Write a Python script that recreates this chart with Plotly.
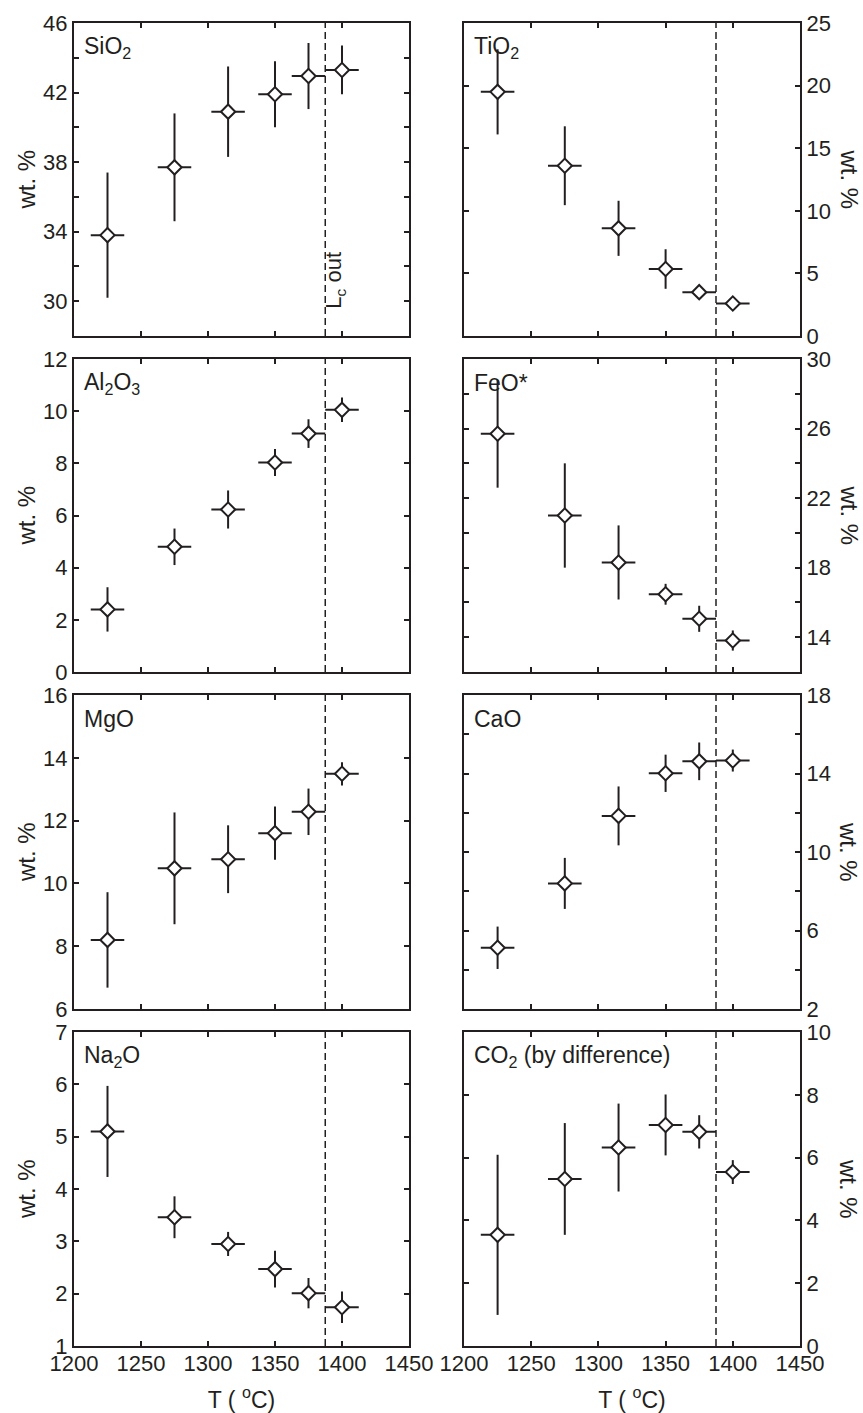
import plotly.graph_objects as go

# Run temperatures (deg C) and half-widths of the temperature bars
T = [1225, 1275, 1315, 1350, 1375, 1400]
T_ERR = [12.5, 12.5, 12.5, 12.5, 12.5, 12.5]
LC_OUT_T = 1387.5  # carbonate liquid out

# Oxide concentrations (wt. %) with 1-sigma spread
SIO2 = [33.8, 37.7, 40.9, 41.9, 42.95, 43.3]
SIO2_ERR = [3.6, 3.1, 2.6, 1.9, 1.9, 1.4]
TIO2 = [19.5, 13.6, 8.6, 5.35, 3.5, 2.6]
TIO2_ERR = [3.4, 3.15, 2.2, 1.58, 0.4, 0.35]
AL2O3 = [2.4, 4.8, 6.23, 8.03, 9.14, 10.05]
AL2O3_ERR = [0.85, 0.7, 0.73, 0.52, 0.55, 0.47]
FEO = [25.7, 21.0, 18.3, 16.47, 15.06, 13.81]
FEO_ERR = [3.1, 3.0, 2.13, 0.6, 0.75, 0.58]
MGO = [8.2, 10.48, 10.77, 11.6, 12.28, 13.49]
MGO_ERR = [1.52, 1.78, 1.08, 0.85, 0.74, 0.37]
CAO = [5.12, 8.4, 11.84, 14.01, 14.62, 14.66]
CAO_ERR = [1.08, 1.3, 1.5, 0.95, 0.96, 0.56]
NA2O = [5.1, 3.46, 2.95, 2.47, 2.01, 1.74]
NA2O_ERR = [0.87, 0.4, 0.23, 0.35, 0.29, 0.3]
CO2 = [3.54, 5.32, 6.32, 7.04, 6.82, 5.54]
CO2_ERR = [2.55, 1.78, 1.4, 0.97, 0.53, 0.38]

X_TICKS = [1200, 1250, 1300, 1350, 1400, 1450]

# name, values, errors, y-range, tick positions, labelled ticks
PANELS = [
    ("SiO<sub>2</sub>", SIO2, SIO2_ERR, [28, 46], list(range(30, 47, 2)), [30, 34, 38, 42, 46]),
    ("TiO<sub>2</sub>", TIO2, TIO2_ERR, [0, 25], list(range(0, 26, 5)), list(range(0, 26, 5))),
    ("Al<sub>2</sub>O<sub>3</sub>", AL2O3, AL2O3_ERR, [0, 12], list(range(0, 13, 2)), list(range(0, 13, 2))),
    ("FeO*", FEO, FEO_ERR, [12, 30], list(range(14, 31, 2)), [14, 18, 22, 26, 30]),
    ("MgO", MGO, MGO_ERR, [6, 16], list(range(6, 17, 2)), list(range(6, 17, 2))),
    ("CaO", CAO, CAO_ERR, [2, 18], list(range(2, 19, 2)), [2, 6, 10, 14, 18]),
    ("Na<sub>2</sub>O", NA2O, NA2O_ERR, [1, 7], list(range(1, 8)), list(range(1, 8))),
    ("CO<sub>2</sub> (by difference)", CO2, CO2_ERR, [0, 10], list(range(0, 11, 2)), list(range(0, 11, 2))),
]

W, H = 863, 1413
INK = "#231f20"
FONT = "Liberation Sans, Arial, sans-serif"

# panel frames in pixels
COL_X = [(74, 409), (464, 800)]
ROW_Y = [(23, 336), (359, 672), (695, 1009), (1032, 1346)]

fig = go.Figure()
annotations = []
shapes = []

for i, (name, vals, errs, yr, tvals, tlab) in enumerate(PANELS):
    row, col = divmod(i, 2)
    n = i + 1
    xa = "x" if n == 1 else f"x{n}"
    ya = "y" if n == 1 else f"y{n}"
    x0, x1 = COL_X[col]
    top, bot = ROW_Y[row]
    xdom = [x0 / W, x1 / W]
    ydom = [1 - bot / H, 1 - top / H]

    fig.add_trace(go.Scatter(
        x=T, y=vals, xaxis=xa, yaxis=ya, mode="markers",
        marker=dict(symbol="diamond", size=11, color="white",
                    line=dict(color=INK, width=2)),
        error_x=dict(type="data", array=T_ERR, color=INK, thickness=2, width=0),
        error_y=dict(type="data", array=errs, color=INK, thickness=2, width=0),
        showlegend=False, hoverinfo="x+y",
    ))

    common = dict(showline=True, linecolor=INK, linewidth=2, mirror="ticks",
                  ticks="inside", ticklen=5, tickwidth=1.5, tickcolor=INK,
                  showgrid=False, zeroline=False, automargin=False,
                  tickfont=dict(family=FONT, size=22, color=INK))

    xkey = "xaxis" if n == 1 else f"xaxis{n}"
    ykey = "yaxis" if n == 1 else f"yaxis{n}"
    xaxis = dict(common, domain=xdom, anchor=ya, range=[1200, 1450],
                 tickvals=X_TICKS, showticklabels=(row == 3))
    if row == 3:
        xaxis["ticklabelstandoff"] = -3
        xaxis["title"] = dict(text="T ( <sup>o</sup>C)", standoff=16,
                              font=dict(family=FONT, size=23, color=INK))
    yaxis = dict(common, domain=ydom, anchor=xa, range=yr,
                 tickvals=tvals,
                 ticktext=[str(v) if v in tlab else "" for v in tvals],
                 side="left" if col == 0 else "right")
    fig.update_layout({xkey: xaxis, ykey: yaxis})

    # oxide name in the upper-left corner
    annotations.append(dict(
        text=name, xref=f"{xa} domain", yref=f"{ya} domain",
        x=8 / (x1 - x0), y=1 - 24 / (bot - top), xanchor="left", yanchor="middle",
        showarrow=False, font=dict(family=FONT, size=23, color=INK)))

    # y-axis title
    annotations.append(dict(
        text="wt. %", xref="paper", yref="paper",
        x=(26 if col == 0 else 849) / W, y=1 - (top + bot) / 2 / H,
        xanchor="center", yanchor="middle", textangle=-90 if col == 0 else 90,
        showarrow=False, font=dict(family=FONT, size=24, color=INK)))

    # carbonate-out boundary
    shapes.append(dict(
        type="line", xref=xa, yref=f"{ya} domain", x0=LC_OUT_T, x1=LC_OUT_T,
        y0=0, y1=1, line=dict(color=INK, width=1.5, dash="7px,4px"), layer="below"))

annotations.append(dict(
    text="L<sub>c</sub> out", xref="x", yref="y", x=1395, y=31.2,
    textangle=-90, showarrow=False, xanchor="center", yanchor="middle",
    font=dict(family=FONT, size=22, color=INK)))

fig.update_layout(
    width=W, height=H, margin=dict(l=0, r=0, t=0, b=0),
    paper_bgcolor="white", plot_bgcolor="white",
    annotations=annotations, shapes=shapes,
)

fig.write_html("out.html")
